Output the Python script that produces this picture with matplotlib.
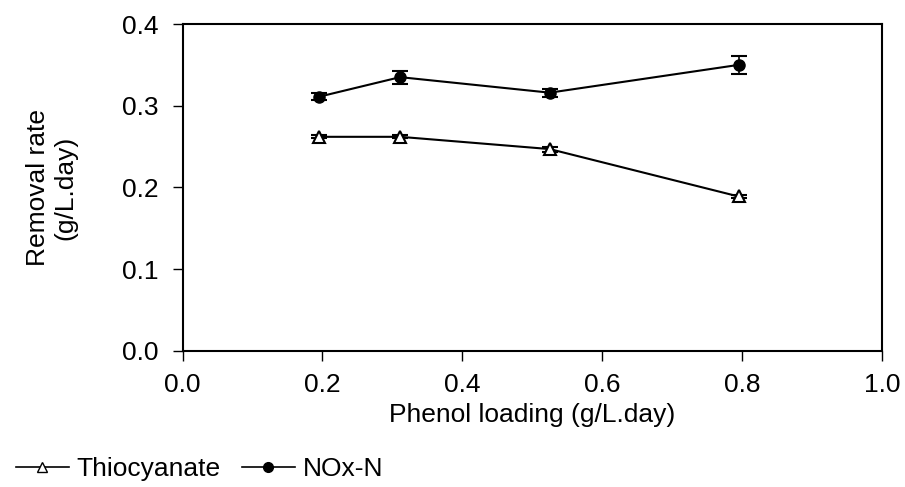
import matplotlib
matplotlib.use('Agg')
import matplotlib.pyplot as plt
from matplotlib.lines import Line2D

plt.rcParams['font.family'] = ['Liberation Sans', 'DejaVu Sans']

# data
phenol_loading = [0.195, 0.311, 0.525, 0.795]
thiocyanate = [0.262, 0.262, 0.247, 0.189]
thiocyanate_err = [0.002, 0.002, 0.003, 0.002]
nox_n = [0.311, 0.335, 0.316, 0.350]
nox_n_err = [0.004, 0.008, 0.005, 0.011]

fig = plt.figure(figsize=(9.05, 4.87), dpi=100)
ax = fig.add_axes([0.2017, 0.2793, 0.7729, 0.6714])

ax.errorbar(phenol_loading, thiocyanate, yerr=thiocyanate_err, color='black',
            marker='^', markerfacecolor='white', markeredgecolor='black',
            markersize=8, markeredgewidth=1.5, linewidth=1.5,
            capsize=6, elinewidth=1.2, capthick=1.5)
ax.errorbar(phenol_loading, nox_n, yerr=nox_n_err, color='black',
            marker='o', markerfacecolor='black', markersize=8, linewidth=1.5,
            capsize=6, elinewidth=1.2, capthick=1.5)

ax.set_xlim(0, 1.0)
ax.set_ylim(0, 0.4)
ax.set_xticks([0.0, 0.2, 0.4, 0.6, 0.8, 1.0])
ax.set_yticks([0.0, 0.1, 0.2, 0.3, 0.4])
ax.set_xticklabels(['0.0', '0.2', '0.4', '0.6', '0.8', '1.0'])
ax.set_yticklabels(['0.0', '0.1', '0.2', '0.3', '0.4'])
ax.tick_params(direction='out', length=7, width=1, labelsize=19)
ax.tick_params(axis='x', pad=9)
ax.tick_params(axis='y', pad=10)
for s in ax.spines.values():
    s.set_linewidth(1.5)

ax.set_xlabel('Phenol loading (g/L.day)', fontsize=19)
ax.xaxis.set_label_coords(0.5, -0.16)
ax.set_ylabel('Removal rate\n(g/L.day)', fontsize=19)
ax.yaxis.set_label_coords(-0.15, 0.5)

handles = [
    Line2D([], [], color='black', marker='^', markerfacecolor='white',
           markeredgecolor='black', markersize=7, linewidth=1.2),
    Line2D([], [], color='black', marker='o', markerfacecolor='black',
           markersize=7, linewidth=1.2),
]
fig.legend(handles, ['Thiocyanate', 'NOx-N'], loc='lower left',
           bbox_to_anchor=(0.0, -0.02), ncol=2, frameon=False,
           fontsize=19, handlelength=2.0, handletextpad=0.3,
           columnspacing=0.8, borderaxespad=0.2)

fig.savefig('out.png', dpi=100)
